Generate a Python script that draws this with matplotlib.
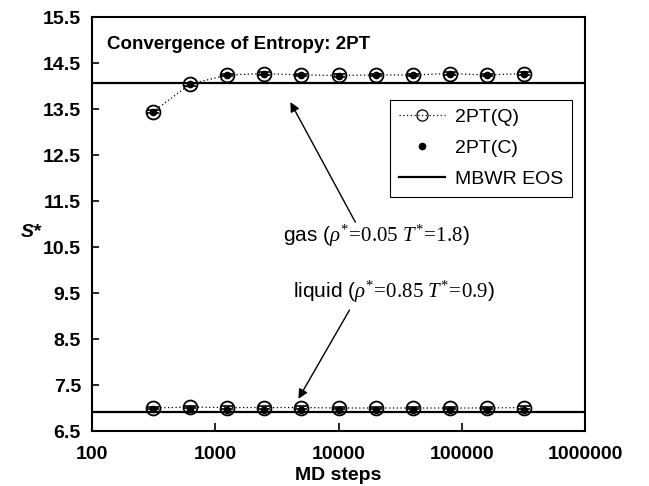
import matplotlib
matplotlib.use("Agg")
import matplotlib.pyplot as plt
from matplotlib.lines import Line2D

plt.rcParams['font.family'] = ['Liberation Sans', 'DejaVu Sans']
plt.rcParams['mathtext.fontset'] = 'custom'
plt.rcParams['mathtext.rm'] = 'Liberation Serif'
plt.rcParams['mathtext.it'] = 'Liberation Serif:italic'

md_steps = [312.5, 625, 1250, 2500, 5000, 10000, 20000, 40000, 80000, 160000, 320000]
gas_q = [13.44, 14.04, 14.24, 14.27, 14.24, 14.23, 14.24, 14.24, 14.27, 14.24, 14.27]
gas_c = [13.44, 14.04, 14.23, 14.26, 14.23, 14.22, 14.23, 14.23, 14.26, 14.23, 14.26]
liq_q = [7.00, 7.02, 7.01, 7.01, 7.01, 7.00, 7.00, 7.00, 7.00, 7.00, 7.01]
liq_c = [6.97, 6.97, 6.96, 6.96, 6.96, 6.96, 6.96, 6.96, 6.96, 6.96, 6.96]
err = [0.03] * len(md_steps)
mbwr_gas = 14.07
mbwr_liq = 6.92
yticks = [6.5, 7.5, 8.5, 9.5, 10.5, 11.5, 12.5, 13.5, 14.5, 15.5]
xticks = [100, 1000, 10000, 100000, 1000000]

fig = plt.figure(figsize=(6.49, 4.86), dpi=100)
ax = fig.add_axes([92/649, 55/486, 493/649, 414/486])

ax.axhline(mbwr_gas, color='black', lw=1.6, zorder=2)
ax.axhline(mbwr_liq, color='black', lw=1.6, zorder=2)

for q, c in [(gas_q, gas_c), (liq_q, liq_c)]:
    ax.errorbar(md_steps, q, yerr=err, fmt='none', ecolor='black', elinewidth=1.0,
                capsize=4, capthick=1.2, zorder=3)
    ax.plot(md_steps, q, linestyle=(0, (1, 2)), color='black', lw=0.9,
            marker='o', markersize=10, markerfacecolor='none',
            markeredgecolor='black', markeredgewidth=1.3, zorder=4)
    ax.plot(md_steps, c, linestyle='none', marker='o', markersize=4.5,
            color='black', zorder=5)

h1 = Line2D([], [], linestyle=(0, (1, 2)), color='black', lw=0.9, marker='o',
            markersize=8, markerfacecolor='none', markeredgecolor='black', markeredgewidth=0.9)
h2 = Line2D([], [], linestyle='none', marker='o', markersize=4.5, color='black')
h3 = Line2D([], [], color='black', lw=1.6)
leg = ax.legend([h1, h2, h3], ['2PT(Q)', '2PT(C)', 'MBWR EOS'],
                loc='upper right', bbox_to_anchor=(0.974, 0.80), fontsize=14,
                frameon=True, fancybox=False, edgecolor='black', framealpha=1,
                handlelength=2.4, handletextpad=0.5, borderpad=0.45, labelspacing=0.68,
                borderaxespad=0)
leg.get_frame().set_linewidth(0.8)

ax.set_xscale('log')
ax.set_xlim(100, 1000000)
ax.set_ylim(6.5, 15.5)
ax.set_yticks(yticks)
ax.set_yticklabels([f"{v:.1f}" for v in yticks])
ax.set_xticks(xticks)
ax.set_xticklabels([str(v) for v in xticks])
ax.xaxis.set_minor_locator(matplotlib.ticker.NullLocator())
ax.tick_params(axis='x', direction='in', length=6, width=1.2, top=False, pad=11)
ax.tick_params(axis='y', direction='in', length=5, width=1.2, right=False, pad=8)
for lab in ax.get_xticklabels() + ax.get_yticklabels():
    lab.set_fontweight('bold')
    lab.set_fontsize(14)
for s in ax.spines.values():
    s.set_linewidth(1.5)

ax.set_xlabel('MD steps', fontsize=14, fontweight='bold', labelpad=3)
ax.set_ylabel('S*', fontsize=14, fontweight='bold', fontstyle='italic', rotation=0,
              va='center', ha='center')
ax.yaxis.set_label_coords(-0.124, 0.48)

ax.text(0.03, 0.955, 'Convergence of Entropy: 2PT', transform=ax.transAxes,
        fontsize=13.5, fontweight='bold', va='top', ha='left')

# annotation texts
ax.text(3570, 10.75, r'gas ($\rho^{*}\!=\!\mathrm{0.05}\ T^{*}\!=\!\mathrm{1.8}$)',
        fontsize=15, ha='left', va='center')
ax.text(4300, 9.52, r'liquid ($\rho^{*}\!=\!\mathrm{0.85}\ T^{*}\!=\!\mathrm{0.9}$)',
        fontsize=15, ha='left', va='center')
# arrows
ax.annotate('', xy=(4070, 13.65), xytext=(13700, 11.04),
            arrowprops=dict(arrowstyle='-|>', color='black', lw=1.0,
                            mutation_scale=14, shrinkA=0, shrinkB=0))
ax.annotate('', xy=(4730, 7.20), xytext=(12280, 9.13),
            arrowprops=dict(arrowstyle='-|>', color='black', lw=1.0,
                            mutation_scale=14, shrinkA=0, shrinkB=0))

fig.savefig('out.png', dpi=100)
